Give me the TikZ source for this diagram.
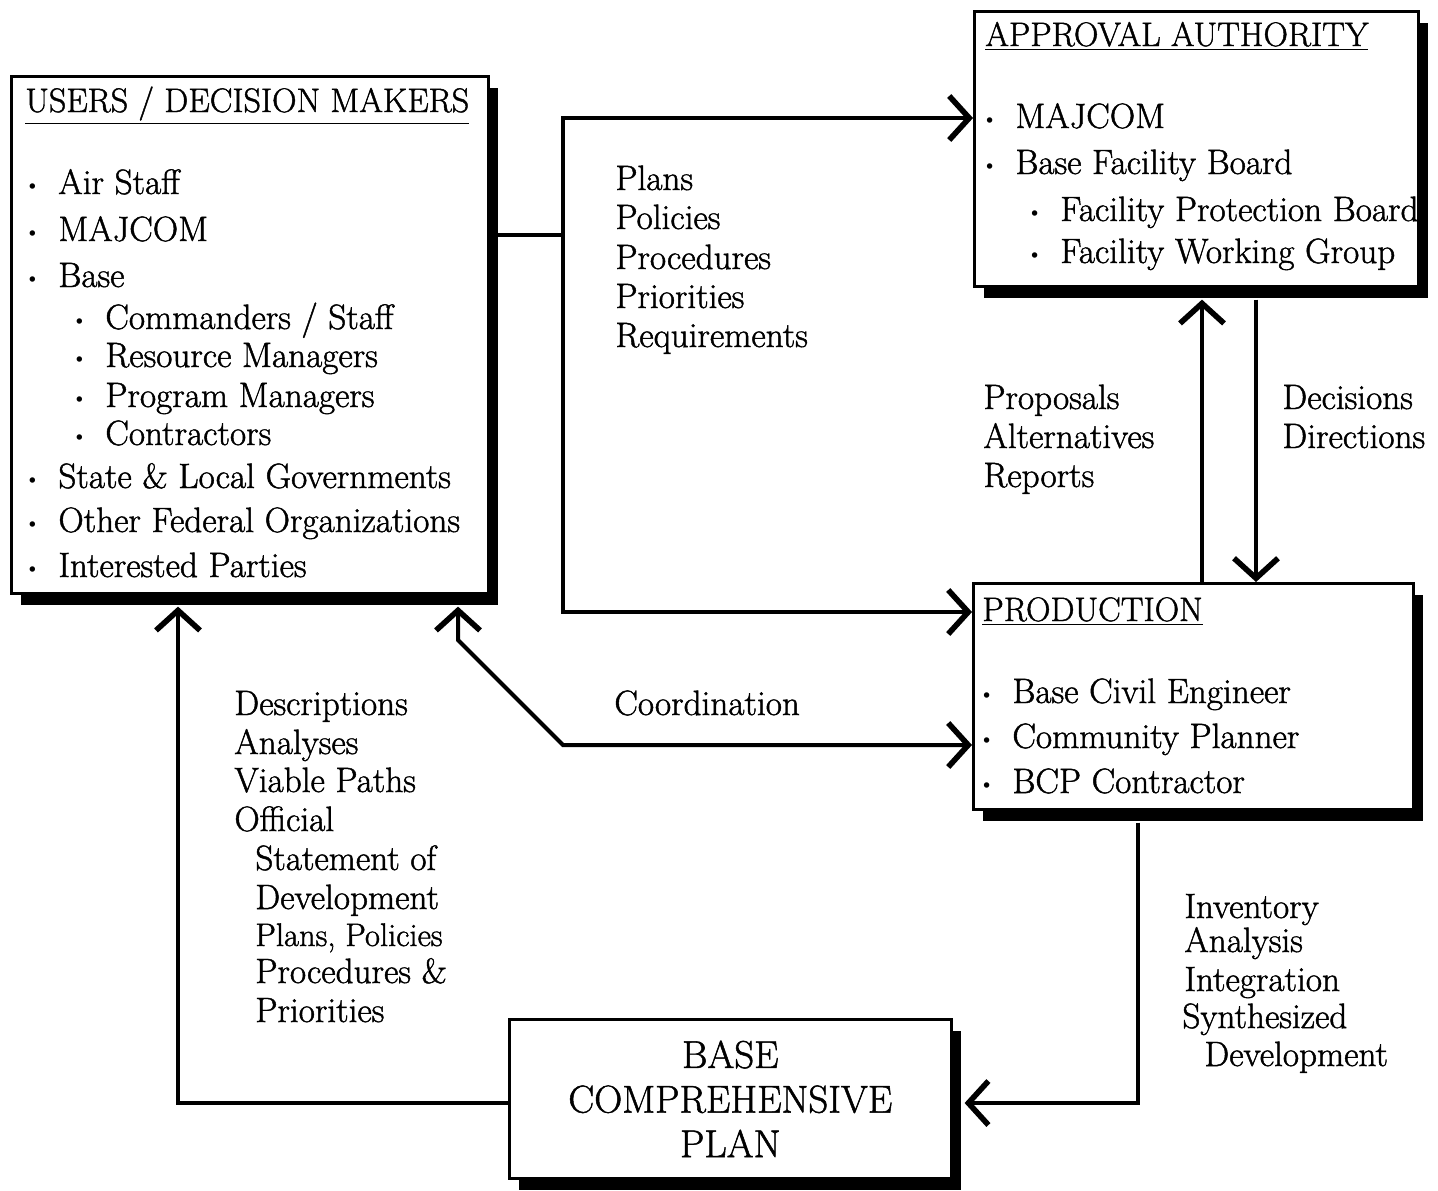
\documentclass[tikz,border=0pt]{standalone}
\usepackage{fontspec}
\setmainfont{Latin Modern Roman}[FakeBold=1.3]
\usetikzlibrary{arrows.meta,shadows}
\newcommand\bl{\llap{\raisebox{2.2pt}{\fontsize{6.5}{6.5}\selectfont$\bullet$}\hspace{11pt}}}
\begin{document}
\begin{tikzpicture}[x=0.5pt,y=-0.5pt,
  box/.style={draw, line width=1.3pt, fill=white, anchor=north west, inner sep=0pt,
    drop shadow={shadow xshift=5pt, shadow yshift=-6pt, fill=black, opacity=1}},
  ln/.style={line width=2pt},
  arr/.style={line width=2pt, -{Straight Barb[length=10pt,width=22pt,line width=2.8pt]}},
  darr/.style={line width=2pt, {Straight Barb[length=10pt,width=22pt,line width=2.8pt]}-{Straight Barb[length=10pt,width=22pt,line width=2.8pt]}},
  lbl/.style={anchor=base west, inner sep=0pt, font=\fontsize{17.6}{21}\selectfont},
  ttl/.style={anchor=base west, inner sep=0pt, font=\fontsize{17}{20}\selectfont}]
\useasboundingbox (0,0) rectangle (1438,1190);
\fill[white] (0,0) rectangle (1438,1190);

% boxes
\node[box, minimum width=238.5pt, minimum height=258.5pt] (users) at (10,75) {};
\node[box, minimum width=222pt, minimum height=137.5pt] (appr) at (973,10) {};
\node[box, minimum width=220pt, minimum height=113pt] (prod) at (972,582) {};
\node[box, minimum width=221pt, minimum height=79.5pt, align=center,
  font=\fontsize{19.4}{22.3}\selectfont] (bcp) at (508,1018) {BASE\\COMPREHENSIVE\\PLAN};

% users text
\node[ttl] (ut) at (25,112) {\underline{USERS / DECISION MAKERS}};
\node[lbl] (u1) at (58,194) {\bl Air Staff};
\node[lbl] (u2) at (58,241) {\bl MAJCOM};
\node[lbl] (u3) at (58,287) {\bl Base};
\node[lbl] (u4) at (105,329) {\bl Commanders / Staff};
\node[lbl] (u5) at (105,367) {\bl Resource Managers};
\node[lbl] (u6) at (105,407) {\bl Program Managers};
\node[lbl] (u7) at (105,445) {\bl Contractors};
\node[lbl] (u8) at (58,488) {\bl State \& Local Governments};
\node[lbl] (u9) at (58,532) {\bl Other Federal Organizations};
\node[lbl] (u10) at (58,577) {\bl Interested Parties};

% approval text
\node[ttl] (at) at (985,46) {\underline{APPROVAL AUTHORITY}};
\node[lbl] (a1) at (1015,128) {\bl MAJCOM};
\node[lbl] (a2) at (1015,174) {\bl Base Facility Board};
\node[lbl] (a3) at (1060,221) {\bl Facility Protection Board};
\node[lbl] (a4) at (1060,263) {\bl Facility Working Group};

% production text
\node[ttl] (pt) at (982,621) {\underline{PRODUCTION}};
\node[lbl] (p1) at (1012,703) {\bl Base Civil Engineer};
\node[lbl] (p2) at (1012,748) {\bl Community Planner};
\node[lbl] (p3) at (1012,793) {\bl BCP Contractor};

% connector labels
\node[lbl] (l1) at (615,190) {Plans};
\node[lbl] (l2) at (615,229) {Policies};
\node[lbl] (l3) at (615,269) {Procedures};
\node[lbl] (l4) at (615,308) {Priorities};
\node[lbl] (l5) at (615,347) {Requirements};

\node[lbl] (r1) at (983,409) {Proposals};
\node[lbl] (r2) at (983,448) {Alternatives};
\node[lbl] (r3) at (983,487) {Reports};

\node[lbl] (d1l) at (1282,409) {Decisions};
\node[lbl] (d2l) at (1282,448) {Directions};

\node[lbl] (co) at (614,715) {Coordination};

\node[lbl] (e1) at (234,715) {Descriptions};
\node[lbl] (e2) at (234,754) {Analyses};
\node[lbl] (e3) at (234,792) {Viable Paths};
\node[lbl] (e4) at (234,831) {Official};
\node[lbl] (e5) at (255,870) {Statement of};
\node[lbl] (e6) at (255,909) {Development};
\node[lbl, font=\fontsize{16.3}{19}\selectfont] (e7) at (255,946) {Plans, Policies};
\node[lbl] (e8) at (255,983) {Procedures \&};
\node[lbl] (e9) at (255,1022) {Priorities};

\node[lbl] (i1) at (1184,918) {Inventory};
\node[lbl] (i2) at (1184,952) {Analysis};
\node[lbl] (i3) at (1184,991) {Integration};
\node[lbl] (i4) at (1182,1028) {Synthesized};
\node[lbl] (i5) at (1204,1066) {Development};

% connectors
\coordinate (j1) at (563,235);
\coordinate (ja) at (563,118);
\coordinate (jb) at (563,612);
\draw[ln] (users.east |- j1) -- (j1);
\draw[arr] (j1) -- (ja) -- (appr.west |- ja);
\draw[arr] (j1) -- (jb) -- (prod.west |- jb);

\coordinate (c1) at (458,640);
\coordinate (c2) at (563,745);
\draw[darr] ([yshift=-6pt]users.south -| c1) -- (c1) -- (c2) -- (prod.west |- c2);

\coordinate (pp) at (1202,0);
\coordinate (dd) at (1256,0);
\draw[arr] (prod.north -| pp) -- ([yshift=-6pt]appr.south -| pp);
\draw[arr] ([yshift=-6pt]appr.south -| dd) -- (prod.north -| dd);

\coordinate (b1) at (1138,1103);
\draw[arr] ([yshift=-6pt]prod.south -| b1) -- (b1) -- ([xshift=6pt]bcp.east |- b1);
\coordinate (b2) at (178,1103);
\draw[arr] (bcp.west |- b2) -- (b2) -- ([yshift=-6pt]users.south -| b2);
\end{tikzpicture}
\end{document}
